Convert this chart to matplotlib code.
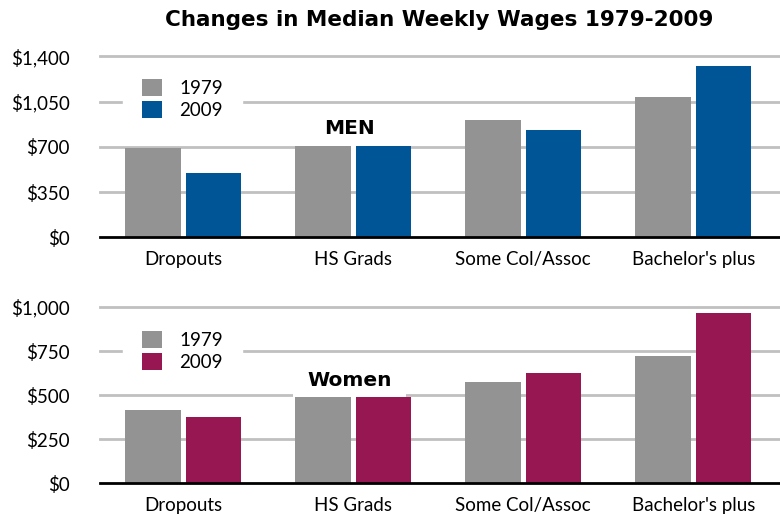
import numpy as np
import matplotlib
matplotlib.use("Agg")
import matplotlib.pyplot as plt
from matplotlib.ticker import FuncFormatter

plt.rcParams['font.family'] = ['Lato', 'DejaVu Sans']

categories = ["Dropouts", "HS Grads", "Some Col/Assoc", "Bachelor's plus"]
years = ["1979", "2009"]

men_1979 = [693, 706, 907, 1085]
men_2009 = [497, 706, 830, 1325]
women_1979 = [415, 489, 574, 722]
women_2009 = [375, 489, 625, 966]

men_ticks = [0, 350, 700, 1050, 1400]
women_ticks = [0, 250, 500, 750, 1000]

gray = "#939393"
blue = "#005596"
plum = "#961751"

fig = plt.figure(figsize=(7.8, 5.14), dpi=100)
ax_top = fig.add_axes([0.1282, 0.5383, 0.8718, 0.3522])
ax_bot = fig.add_axes([0.1282, 0.0603, 0.8718, 0.3424])


def money(v, pos):
    return "${:,.0f}".format(v)


def panel(ax, a, b, col, ticks, label, lab_y, leg_y):
    x = np.arange(len(categories))
    w = 0.325
    g = 0.015
    ax.bar(x - w / 2 - g, a, width=w, color=gray, label=years[0], zorder=3)
    ax.bar(x + w / 2 + g, b, width=w, color=col, label=years[1], zorder=3)
    for t in ticks[1:]:
        ax.axhline(t, color="#c0c0c0", lw=2, zorder=1, clip_on=False)
    ax.axhline(0, color="black", lw=2, zorder=4, clip_on=False)
    ax.set_xlim(-0.49, 3.51)
    ax.set_ylim(0, ticks[-1])
    ax.set_yticks(ticks)
    ax.yaxis.set_major_formatter(FuncFormatter(money))
    ax.set_xticks(x)
    ax.set_xticklabels(categories)
    ax.tick_params(axis="y", length=0, pad=21.6, labelsize=13.5)
    ax.tick_params(axis="x", length=0, pad=10, labelsize=13.5)
    for s in ax.spines.values():
        s.set_visible(False)
    leg = ax.legend(loc="upper left", bbox_to_anchor=(0.034, leg_y), fontsize=13.5,
                    frameon=True, fancybox=False, edgecolor="white", framealpha=1,
                    handlelength=1.05, handleheight=1.05, handletextpad=0.95,
                    labelspacing=0.22, borderpad=1.0, borderaxespad=0)
    leg.set_zorder(5)
    ax.text(0.367, lab_y, label, transform=ax.transAxes,
            ha="center", va="center", fontsize=14.5, fontweight="bold",
            family="DejaVu Sans", zorder=2,
            bbox=dict(boxstyle="square,pad=0.7", fc="white", ec="none"))


panel(ax_top, men_1979, men_2009, blue, men_ticks, "MEN", 0.6, 0.98)
panel(ax_bot, women_1979, women_2009, plum, women_ticks, "Women", 0.585, 0.972)

fig.text(0.563, 0.962, "Changes in Median Weekly Wages 1979-2009", ha="center",
         va="center", fontsize=15.5, fontweight="bold", family="DejaVu Sans")

fig.savefig("out.png", dpi=100)
